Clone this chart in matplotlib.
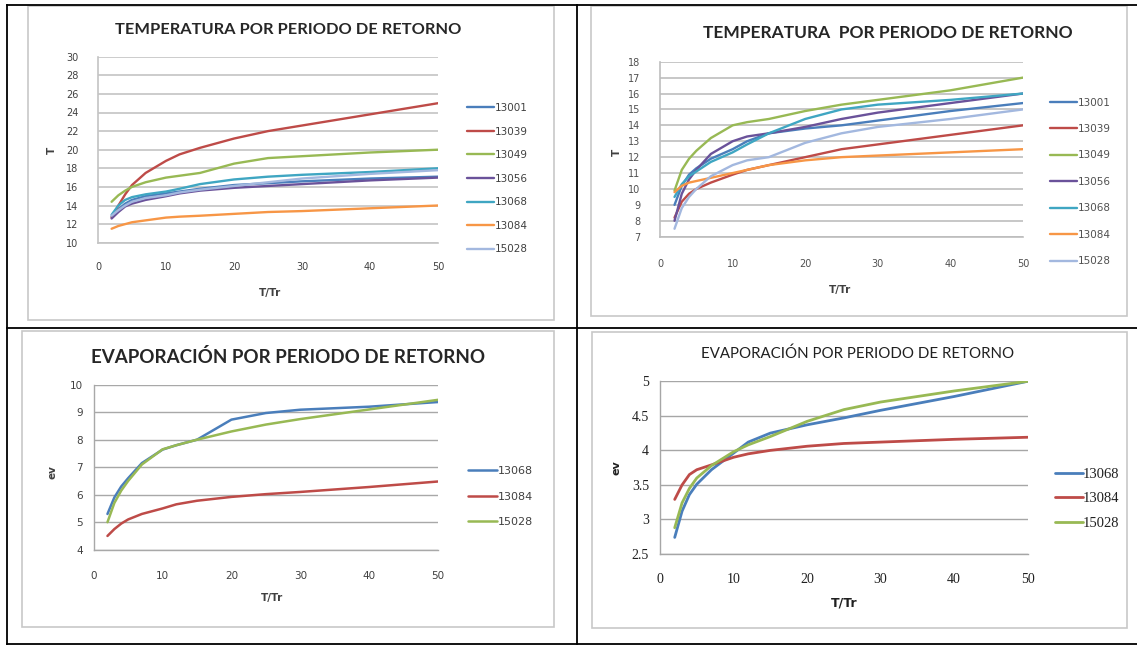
import matplotlib
matplotlib.use("Agg")
import matplotlib.pyplot as plt
from matplotlib.patches import Rectangle
from matplotlib.lines import Line2D

W, H = 1137, 647

# ---------------- data ----------------
T = [2, 3, 4, 5, 7, 10, 12, 15, 20, 25, 30, 40, 50]

stations_temp = ["13001", "13039", "13049", "13056", "13068", "13084", "15028"]

temp1_13001 = [12.8, 13.6, 14.2, 14.6, 15.0, 15.3, 15.5, 15.8, 16.2, 16.4, 16.6, 16.9, 17.1]
temp1_13039 = [12.7, 14.0, 15.2, 16.2, 17.5, 18.8, 19.5, 20.2, 21.2, 22.0, 22.6, 23.8, 25.0]
temp1_13049 = [14.4, 15.1, 15.6, 16.0, 16.5, 17.0, 17.2, 17.5, 18.5, 19.1, 19.3, 19.7, 20.0]
temp1_13056 = [12.6, 13.3, 13.9, 14.2, 14.6, 15.0, 15.3, 15.6, 15.9, 16.1, 16.3, 16.7, 17.0]
temp1_13068 = [13.0, 14.0, 14.6, 14.9, 15.2, 15.5, 15.8, 16.3, 16.8, 17.1, 17.3, 17.6, 18.0]
temp1_13084 = [11.5, 11.8, 12.0, 12.2, 12.4, 12.7, 12.8, 12.9, 13.1, 13.3, 13.4, 13.7, 14.0]
temp1_15028 = [12.9, 13.5, 14.0, 14.4, 14.8, 15.1, 15.4, 15.7, 16.1, 16.5, 16.9, 17.4, 17.8]

temp2_13001 = [9.0, 10.2, 10.9, 11.3, 11.9, 12.5, 13.0, 13.5, 13.8, 14.0, 14.3, 14.9, 15.4]
temp2_13039 = [8.2, 9.2, 9.7, 10.0, 10.4, 10.9, 11.2, 11.5, 12.0, 12.5, 12.8, 13.4, 14.0]
temp2_13049 = [9.9, 11.2, 11.9, 12.4, 13.2, 14.0, 14.2, 14.4, 14.9, 15.3, 15.6, 16.2, 17.0]
temp2_13056 = [8.0, 9.7, 10.6, 11.2, 12.2, 13.0, 13.3, 13.5, 13.9, 14.4, 14.8, 15.4, 16.0]
temp2_13068 = [9.5, 10.3, 10.8, 11.1, 11.7, 12.3, 12.8, 13.5, 14.4, 15.0, 15.3, 15.6, 16.0]
temp2_13084 = [9.8, 10.2, 10.4, 10.5, 10.7, 11.0, 11.2, 11.5, 11.8, 12.0, 12.1, 12.3, 12.5]
temp2_15028 = [7.5, 8.8, 9.5, 10.0, 10.8, 11.5, 11.8, 12.0, 12.9, 13.5, 13.9, 14.4, 15.0]

stations_evap = ["13068", "13084", "15028"]

evap1_13068 = [5.3, 5.9, 6.3, 6.6, 7.15, 7.64, 7.8, 8.0, 8.73, 8.97, 9.09, 9.2, 9.37]
evap1_13084 = [4.5, 4.75, 4.95, 5.1, 5.3, 5.5, 5.65, 5.78, 5.92, 6.02, 6.1, 6.28, 6.48]
evap1_15028 = [5.0, 5.7, 6.15, 6.5, 7.1, 7.65, 7.8, 8.0, 8.3, 8.55, 8.75, 9.1, 9.45]

evap2_13068 = [2.74, 3.12, 3.36, 3.51, 3.72, 3.96, 4.12, 4.25, 4.37, 4.47, 4.58, 4.78, 5.0]
evap2_13084 = [3.29, 3.5, 3.65, 3.72, 3.79, 3.9, 3.95, 4.0, 4.06, 4.1, 4.12, 4.16, 4.19]
evap2_15028 = [2.88, 3.24, 3.45, 3.6, 3.78, 3.98, 4.08, 4.2, 4.42, 4.59, 4.7, 4.86, 5.0]

yticks_t1 = [10, 12, 14, 16, 18, 20, 22, 24, 26, 28, 30]
yticks_t2 = [7, 8, 9, 10, 11, 12, 13, 14, 15, 16, 17, 18]
yticks_e1 = [4, 5, 6, 7, 8, 9, 10]
yticks_e2 = [2.5, 3, 3.5, 4, 4.5, 5]
yticklabels_e2 = ["2.5", "3", "3.5", "4", "4.5", "5"]
xticks = [0, 10, 20, 30, 40, 50]

title_temp = "TEMPERATURA POR PERIODO DE RETORNO"
title_temp2 = "TEMPERATURA  POR PERIODO DE RETORNO"
title_evap = "EVAPORACIÓN POR PERIODO DE RETORNO"

# ---------------- styles ----------------
temp_colors = ["#4A7EBB", "#BE4B48", "#98B954", "#6A529A", "#3FA6C2", "#F79646", "#A3B8DF"]
evap_colors = ["#4A7EBB", "#BE4B48", "#98B954"]

fig = plt.figure(figsize=(W / 100, H / 100), dpi=100)
fig.patch.set_facecolor("white")


def fxy(x, y):
    return x / W, 1 - y / H


def add_ax(x0, x1, ytop, ybot):
    return fig.add_axes([x0 / W, 1 - ybot / H, (x1 - x0) / W, (ybot - ytop) / H])


def frame(x0, y0, x1, y1):
    fig.add_artist(Rectangle(fxy(x0, y1), (x1 - x0) / W, (y1 - y0) / H,
                             transform=fig.transFigure, facecolor="white",
                             edgecolor="#C8C8C8", lw=1.2, zorder=0))


def hline(y, x0, x1, lw=1.3):
    fig.add_artist(Line2D([x0 / W, x1 / W], [1 - y / H, 1 - y / H],
                          transform=fig.transFigure, color="black", lw=lw))


def vline(x, y0, y1, lw=1.3):
    fig.add_artist(Line2D([x / W, x / W], [1 - y0 / H, 1 - y1 / H],
                          transform=fig.transFigure, color="black", lw=lw))


# table lines
hline(5, 7, 1137)
hline(328, 7, 1137)
hline(644, 7, 1137)
vline(7, 5, 644)
vline(577, 5, 644)

# chart frames
frame(28, 6, 554, 320)
frame(591, 6, 1127, 316)
frame(22, 331, 554, 627)
frame(592, 332, 1127, 628)


def style_ax(ax, ylim, yticks, ylabels, tick_fs, tick_color, grid_color, ypad, xpad, grid_lw):
    ax.set_xlim(0, 50)
    ax.set_ylim(*ylim)
    ax.set_xticks(xticks)
    ax.set_yticks(yticks)
    if ylabels is not None:
        ax.set_yticklabels(ylabels)
    ax.tick_params(axis="both", length=0, labelsize=tick_fs, labelcolor=tick_color)
    ax.tick_params(axis="y", pad=ypad)
    ax.tick_params(axis="x", pad=xpad)
    ax.grid(axis="y", color=grid_color, lw=grid_lw)
    ax.set_axisbelow(True)
    for s in ["top", "right"]:
        ax.spines[s].set_visible(False)
    for s in ["left", "bottom"]:
        ax.spines[s].set_color(grid_color)
        ax.spines[s].set_linewidth(grid_lw)
    ax.patch.set_alpha(0)


# ---------- top-left ----------
ax1 = add_ax(98, 438, 56.7, 242.7)
series1 = [temp1_13001, temp1_13039, temp1_13049, temp1_13056, temp1_13068, temp1_13084, temp1_15028]
for name, vals, c in zip(stations_temp, series1, temp_colors):
    ax1.plot(T, vals, color=c, lw=1.7, label=name, solid_capstyle="round")
style_ax(ax1, (10, 30), yticks_t1, None, 7, "#404040", "#C4C4C4", 14, 14, 1.2)
leg = ax1.legend(loc="upper left", bbox_to_anchor=(467 / W, 1 - 103 / H), bbox_transform=fig.transFigure,
                 frameon=False, fontsize=7.5, handlelength=2.6, handletextpad=0.1,
                 labelspacing=1.30, borderaxespad=0, borderpad=0)
for t in leg.get_texts():
    t.set_color("#404040")
fig.text(*fxy(288, 30), title_temp, ha="center", va="center", fontsize=11.8,
         fontweight="bold", family="Lato", color="#262626")
fig.text(*fxy(270, 293), "T/Tr", ha="center", va="center", fontsize=7.5, fontweight="bold", color="#404040")
fig.text(*fxy(52, 150), "T", ha="center", va="center", fontsize=7.5, fontweight="bold",
         rotation=90, color="#404040")

# ---------- top-right ----------
ax2 = add_ax(660, 1023, 61.7, 236.7)
series2 = [temp2_13001, temp2_13039, temp2_13049, temp2_13056, temp2_13068, temp2_13084, temp2_15028]
for name, vals, c in zip(stations_temp, series2, temp_colors):
    ax2.plot(T, vals, color=c, lw=1.7, label=name, solid_capstyle="round")
style_ax(ax2, (7, 18), yticks_t2, None, 7, "#505050", "#BDBDBD", 14, 16, 1.2)
leg = ax2.legend(loc="upper left", bbox_to_anchor=(1050 / W, 1 - 97.5 / H), bbox_transform=fig.transFigure,
                 frameon=False, fontsize=7.5, handlelength=2.6, handletextpad=0.1,
                 labelspacing=1.58, borderaxespad=0, borderpad=0)
for t in leg.get_texts():
    t.set_color("#505050")
fig.text(*fxy(888, 33), title_temp2, ha="center", va="center", fontsize=12.5,
         fontweight="bold", family="Lato", color="#262626")
fig.text(*fxy(840, 290), "T/Tr", ha="center", va="center", fontsize=7.5, fontweight="bold", color="#404040")
fig.text(*fxy(617, 152), "T", ha="center", va="center", fontsize=7.5, fontweight="bold",
         rotation=90, color="#404040")

# ---------- bottom-left ----------
ax3 = add_ax(93.7, 438, 384.7, 549.7)
series3 = [evap1_13068, evap1_13084, evap1_15028]
for name, vals, c in zip(stations_evap, series3, evap_colors):
    ax3.plot(T, vals, color=c, lw=1.8, label=name, solid_capstyle="round")
style_ax(ax3, (4, 10), yticks_e1, None, 7.5, "#404040", "#A8A8A8", 8, 15, 1.0)
leg = ax3.legend(loc="upper left", bbox_to_anchor=(468 / W, 1 - 466 / H), bbox_transform=fig.transFigure,
                 frameon=False, fontsize=8, handlelength=2.6, handletextpad=0.1,
                 labelspacing=1.41, borderaxespad=0, borderpad=0)
for t in leg.get_texts():
    t.set_color("#404040")
fig.text(*fxy(288, 357), title_evap, ha="center", va="center", fontsize=13.5,
         fontweight="bold", family="Lato", color="#262626")
fig.text(*fxy(272, 598), "T/Tr", ha="center", va="center", fontsize=7.5, fontweight="bold", color="#404040")
fig.text(*fxy(52, 472), "ev", ha="center", va="center", fontsize=7.5, fontweight="bold",
         rotation=90, color="#404040")

# ---------- bottom-right ----------
ax4 = add_ax(660, 1027.7, 381.3, 554)
series4 = [evap2_13068, evap2_13084, evap2_15028]
for name, vals, c in zip(stations_evap, series4, evap_colors):
    ax4.plot(T, vals, color=c, lw=2.0, label=name, solid_capstyle="round")
style_ax(ax4, (2.5, 5), yticks_e2, yticklabels_e2, 9, "#202020", "#A6A6A6", 8, 14, 1.0)
for lab in ax4.get_xticklabels() + ax4.get_yticklabels():
    lab.set_family("Liberation Serif")
    lab.set_fontsize(10)
leg = ax4.legend(loc="upper left", bbox_to_anchor=(1055 / W, 1 - 467.5 / H), bbox_transform=fig.transFigure,
                 frameon=False, handlelength=1.9, handletextpad=0.0,
                 labelspacing=0.79, borderaxespad=0, borderpad=0,
                 prop={"family": "Liberation Serif", "size": 10.5})
for t in leg.get_texts():
    t.set_color("#202020")
fig.text(*fxy(858, 354), title_evap, ha="center", va="center", fontsize=10.8,
         family="Lato", color="#202020")
fig.text(*fxy(844, 603), "T/Tr", ha="center", va="center", fontsize=9, fontweight="bold", color="#202020")
fig.text(*fxy(617, 468), "ev", ha="center", va="center", fontsize=8, fontweight="bold",
         rotation=90, color="#202020")

fig.savefig("out.png", dpi=100, facecolor="white")
